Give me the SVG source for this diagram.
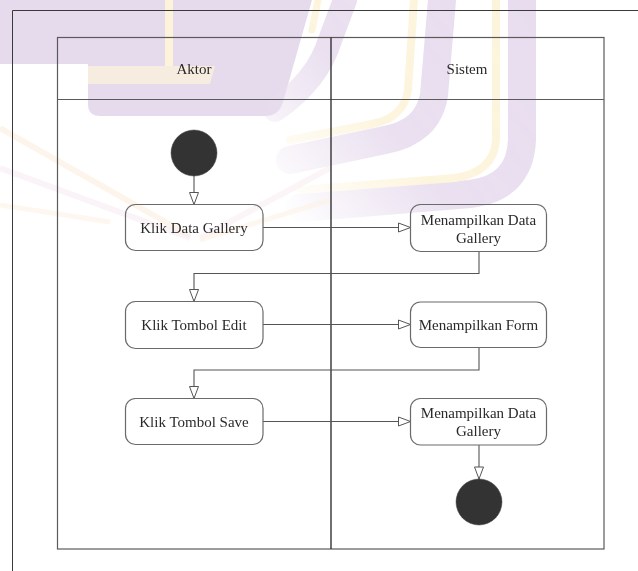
<svg xmlns="http://www.w3.org/2000/svg" width="638" height="571" viewBox="0 0 638 571">
<style>
.frame{fill:none;stroke:#3a3a3a;stroke-width:1}
.lane{fill:none;stroke:#5a5a5a;stroke-width:1.2}
.div{fill:none;stroke:#333;stroke-width:1.4}
.box{fill:none;stroke:#6a6a6a;stroke-width:1.2}
.dot{fill:#333;stroke:#444;stroke-width:0.5}
.edge{fill:none;stroke:#555;stroke-width:1.1}
.t{font-size:15px;fill:#2a2a2a;text-anchor:middle}
.wp{fill:none;stroke:#d9c6e4;stroke-linecap:round}
.wy{fill:none;stroke:#fbecc2;stroke-linecap:round}
</style>
<defs>
<marker id="arr" markerUnits="userSpaceOnUse" markerWidth="14" markerHeight="11" refX="12" refY="4.5" orient="auto" overflow="visible">
<path d="M0,0 L12,4.5 L0,9 Z" fill="#fff" stroke="#555" stroke-width="1"/>
</marker>
<linearGradient id="fadeR" gradientUnits="userSpaceOnUse" x1="540" y1="0" x2="280" y2="210">
<stop offset="0" stop-color="#fff" stop-opacity="1"/>
<stop offset="0.6" stop-color="#fff" stop-opacity="0.9"/>
<stop offset="1" stop-color="#fff" stop-opacity="0"/>
</linearGradient>
<mask id="mR"><rect x="0" y="0" width="638" height="571" fill="url(#fadeR)"/></mask>
</defs>
<g id="watermark" opacity="0.6">
<path d="M0,0 H312 L283,102 Q279,116 265,116 H100 Q88,116 88,104 V64 H0 Z" fill="#d6c1e2"/>
<rect x="165" y="0" width="8" height="66" fill="#fbecc2"/>
<path d="M88,66 H215 L210,84 H88 Z" fill="#fbecc2" opacity="0.7"/>
<g mask="url(#mR)">
<path class="wp" stroke-width="28" d="M522,0 V140 Q520,188 470,194 L300,208"/>
<path class="wy" stroke-width="8" d="M496,0 V140 Q494,172 455,178 L300,190"/>
<path class="wp" stroke-width="28" d="M442,0 L434,95 Q428,132 385,140 L290,160"/>
<path class="wy" stroke-width="8" d="M414,0 L408,90 Q404,118 372,124 L290,140"/>
<path class="wp" stroke-width="24" d="M345,0 L330,40 Q318,80 275,110"/>
<path class="wy" stroke-width="7" d="M318,0 L312,30"/>
</g>
<path d="M0,128 L190,236" stroke="#fbe3c8" stroke-width="6" opacity="0.6"/>
<path d="M0,168 L190,238" stroke="#f1dbe8" stroke-width="6" opacity="0.55"/>
<path d="M0,205 L110,222" stroke="#fbe3c8" stroke-width="5" opacity="0.45"/>
<path d="M200,238 L330,168" stroke="#f3e0ea" stroke-width="6" opacity="0.5"/>
<path d="M200,240 L330,200" stroke="#fbe8cf" stroke-width="5" opacity="0.5"/>
</g>
<g id="frame">
<path class="frame" d="M12.5,571 V10.5 H638"/>
</g>
<g id="lanes" font-family="Liberation Serif, Times New Roman, DejaVu Serif, serif">
<rect class="lane" x="57.5" y="37.5" width="546.5" height="511.5"/>
<line class="lane" x1="57.5" y1="99.5" x2="604" y2="99.5"/>
<line class="div" x1="331" y1="37.5" x2="331" y2="549"/>
<text class="t" x="194" y="74">Aktor</text>
<text class="t" x="467" y="74">Sistem</text>
</g>
<g id="connectors">
<line class="edge" x1="194" y1="176" x2="194" y2="204.5" marker-end="url(#arr)"/>
<line class="edge" x1="263" y1="227.5" x2="410.5" y2="227.5" marker-end="url(#arr)"/>
<path class="edge" d="M479,251.5 V273.5 H194 V301.5" marker-end="url(#arr)"/>
<line class="edge" x1="263" y1="324.5" x2="410.5" y2="324.5" marker-end="url(#arr)"/>
<path class="edge" d="M479,347.5 V370 H194 V398.5" marker-end="url(#arr)"/>
<line class="edge" x1="263" y1="421.5" x2="410.5" y2="421.5" marker-end="url(#arr)"/>
<line class="edge" x1="479" y1="445" x2="479" y2="479" marker-end="url(#arr)"/>
</g>
<g id="nodes" font-family="Liberation Serif, Times New Roman, DejaVu Serif, serif">
<g id="start"><circle class="dot" cx="194" cy="153" r="23"/></g>
<g id="klikDataGallery">
<rect class="box" x="125.5" y="204.5" width="137.5" height="46" rx="10"/>
<text class="t" x="194" y="232.5">Klik Data Gallery</text>
</g>
<g id="menampilkanDataGallery1">
<rect class="box" x="410.5" y="204.5" width="136" height="47" rx="10"/>
<text class="t" x="478.5" y="224.5">Menampilkan Data</text>
<text class="t" x="478.5" y="243">Gallery</text>
</g>
<g id="klikTombolEdit">
<rect class="box" x="125.5" y="301.5" width="137.5" height="47" rx="10"/>
<text class="t" x="194" y="329.5">Klik Tombol Edit</text>
</g>
<g id="menampilkanForm">
<rect class="box" x="410.5" y="302" width="136" height="45.5" rx="10"/>
<text class="t" x="478.5" y="330">Menampilkan Form</text>
</g>
<g id="klikTombolSave">
<rect class="box" x="125.5" y="398.5" width="137.5" height="46" rx="10"/>
<text class="t" x="194" y="427">Klik Tombol Save</text>
</g>
<g id="menampilkanDataGallery2">
<rect class="box" x="410.5" y="398.5" width="136" height="46.5" rx="10"/>
<text class="t" x="478.5" y="417.5">Menampilkan Data</text>
<text class="t" x="478.5" y="436">Gallery</text>
</g>
<g id="end"><circle class="dot" cx="479" cy="502" r="23"/></g>
</g>
</svg>
